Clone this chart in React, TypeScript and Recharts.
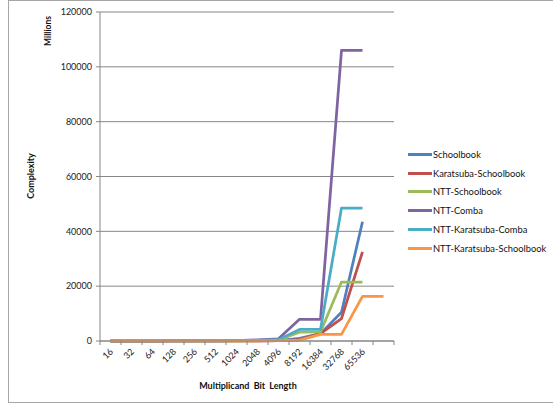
import { LineChart, Line, XAxis, YAxis, CartesianGrid } from 'recharts'

// Multiplicand bit lengths (the last category has no label in the source)
const bitLengths = ['16', '32', '64', '128', '256', '512', '1024', '2048', '4096', '8192', '16384', '32768', '65536', '']

// Complexity, in millions
const schoolbook = [0.003, 0.01, 0.04, 0.2, 0.7, 2.7, 11, 42, 170, 1000, 2700, 10500, 43500, null]
const karatsubaSchoolbook = [0.005, 0.02, 0.06, 0.2, 0.6, 2, 7, 25, 100, 500, 2700, 8200, 32500, null]
const nttSchoolbook = [0.5, 1, 2, 5, 10, 25, 60, 150, 400, 3200, 3300, 21500, 21500, null]
const nttComba = [1, 2, 4, 10, 25, 60, 150, 400, 800, 7900, 7900, 106000, 106000, null]
const nttKaratsubaComba = [0.8, 1.5, 3, 8, 18, 40, 100, 250, 500, 4200, 4200, 48500, 48500, null]
const nttKaratsubaSchoolbook = [0.2, 0.5, 1, 2, 5, 12, 30, 70, 150, 300, 2400, 2400, 16300, 16300]

const yTicks = [0, 20000, 40000, 60000, 80000, 100000, 120000]

const series = [
  { key: 'schoolbook', name: 'Schoolbook', color: '#4F81BD', values: schoolbook },
  { key: 'karatsubaSchoolbook', name: 'Karatsuba-Schoolbook', color: '#C0504D', values: karatsubaSchoolbook },
  { key: 'nttSchoolbook', name: 'NTT-Schoolbook', color: '#9BBB59', values: nttSchoolbook },
  { key: 'nttComba', name: 'NTT-Comba', color: '#8064A2', values: nttComba },
  { key: 'nttKaratsubaComba', name: 'NTT-Karatsuba-Comba', color: '#4BACC6', values: nttKaratsubaComba },
  { key: 'nttKaratsubaSchoolbook', name: 'NTT-Karatsuba-Schoolbook', color: '#F79646', values: nttKaratsubaSchoolbook },
]

const data = bitLengths.map((bits, i) => {
  const row: Record<string, string | number | null> = { bits }
  series.forEach((s) => {
    row[s.key] = s.values[i]
  })
  return row
})

const W = 545
const H = 403
const MARGIN = { top: 12, right: 159, bottom: 0, left: 0 }
const Y_AXIS_W = 92
const X_AXIS_H = 62
const PLOT_W = W - MARGIN.left - MARGIN.right - Y_AXIS_W
const HALF_BAND = PLOT_W / bitLengths.length / 2

const FONT = 'Lato, "DejaVu Sans", sans-serif'
const AXIS_GRAY = '#868686'

const XTick = (props: any) => {
  const { x, y, payload, index } = props
  const last = index === bitLengths.length - 1
  const ax = x + 1
  const ay = y + 5
  return (
    <g>
      <line x1={x - HALF_BAND} x2={x - HALF_BAND} y1={y - 4} y2={y} stroke={AXIS_GRAY} />
      {last && <line x1={x + HALF_BAND} x2={x + HALF_BAND} y1={y - 4} y2={y} stroke={AXIS_GRAY} />}
      <text
        x={ax}
        y={ay}
        transform={`rotate(-45, ${ax}, ${ay})`}
        textAnchor="end"
        dy="0.35em"
        fontSize={9}
        fontFamily={FONT}
        fill="#222"
      >
        {payload.value}
      </text>
    </g>
  )
}

const title = { position: 'absolute' as const, fontFamily: FONT, fontWeight: 700, color: '#111', whiteSpace: 'nowrap' as const }

export default function App() {
  return (
    <div
      style={{
        position: 'absolute',
        left: 8,
        top: 0,
        width: W,
        height: H,
        boxSizing: 'border-box',
        borderLeft: '1px solid #a6a6a6',
        borderTop: '1px solid #a6a6a6',
        borderBottom: '1px solid #a6a6a6',
        background: '#fff',
      }}
    >
      <div style={{ position: 'absolute', left: -1, top: -1 }}>
        <LineChart width={W} height={H} data={data} margin={MARGIN}>
          <CartesianGrid vertical={false} stroke={AXIS_GRAY} />
          <XAxis
            dataKey="bits"
            height={X_AXIS_H}
            interval={0}
            padding={{ left: HALF_BAND, right: HALF_BAND }}
            tickLine={false}
            tickSize={4}
            tickMargin={0}
            stroke={AXIS_GRAY}
            tick={<XTick />}
          />
          <YAxis
            width={Y_AXIS_W}
            domain={[0, 120000]}
            ticks={yTicks}
            interval={0}
            tickSize={4}
            tickMargin={4}
            stroke={AXIS_GRAY}
            tick={{ fontSize: 9, fontFamily: FONT, fill: '#222' }}
          />
          {series.map((s) => (
            <Line
              key={s.key}
              type="linear"
              dataKey={s.key}
              name={s.name}
              stroke={s.color}
              strokeWidth={2.75}
              strokeLinejoin="round"
              dot={false}
              activeDot={false}
              isAnimationActive={false}
            />
          ))}
        </LineChart>
      </div>

      <div style={{ ...title, left: 30 - 9, top: 176 - 1, fontSize: 9, transform: 'translate(-50%, -50%) rotate(-90deg)' }}>
        Complexity
      </div>
      <div style={{ ...title, left: 48 - 9, top: 31 - 1, fontSize: 8.5, transform: 'translate(-50%, -50%) rotate(-90deg)' }}>
        Millions
      </div>
      <div style={{ ...title, left: 248 - 9, top: 385 - 1, fontSize: 9, transform: 'translate(-50%, -50%)', wordSpacing: 2 }}>
        Multiplicand Bit Length
      </div>

      <div style={{ position: 'absolute', left: 408 - 9, top: 145 - 1, fontFamily: FONT, fontSize: 9.3, color: '#111' }}>
        {series.map((s) => (
          <div key={s.key} style={{ display: 'flex', alignItems: 'center', height: 18.8 }}>
            <span style={{ display: 'inline-block', width: 24, height: 3, background: s.color, marginRight: 1 }} />
            <span>{s.name}</span>
          </div>
        ))}
      </div>
    </div>
  )
}
